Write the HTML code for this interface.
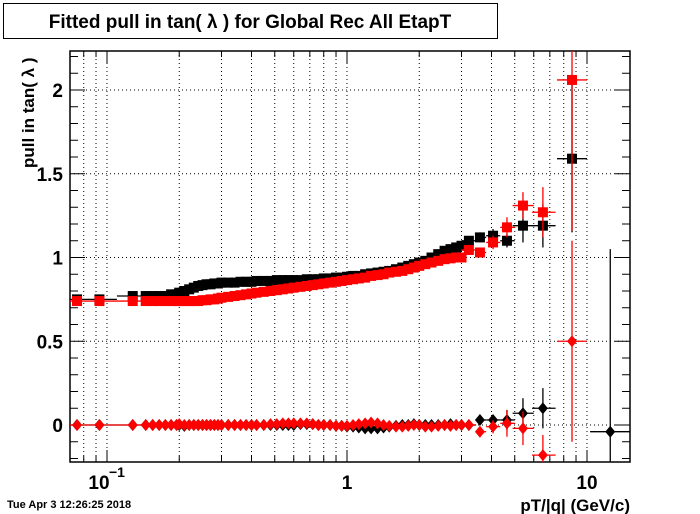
<!DOCTYPE html>
<html><head><meta charset="utf-8"><style>
html,body{margin:0;padding:0;background:#fff;overflow:hidden;}
body{width:700px;height:514px;overflow:hidden;font-family:"Liberation Sans",sans-serif;}
svg{display:block;}
</style></head><body>
<svg id="chart" width="700" height="514" xmlns="http://www.w3.org/2000/svg" font-family="Liberation Sans, sans-serif">
<rect x="3.5" y="3.5" width="494" height="35" fill="#fff" stroke="#000" stroke-width="1"/>
<text x="250" y="28" text-anchor="middle" font-size="19" font-weight="bold">Fitted pull in tan( λ ) for Global Rec All EtapT</text>
<g id="grid"></g>
<g id="axes"></g>
<g id="marks"></g>
<text transform="translate(34,168) rotate(-90)" font-size="17" font-weight="bold">pull in tan( λ )</text>
<text x="630" y="511" text-anchor="end" font-size="17" font-weight="bold">pT/|q| (GeV/c)</text>
<text x="7" y="508" font-size="11" font-weight="bold">Tue Apr  3 12:26:25 2018</text>
</svg>
<script>
const xs=[0.075,0.093,0.128,0.145,0.155,0.165,0.175,0.185,0.195,0.2,0.21,0.22,0.23,0.24,0.25,0.26,0.27,0.28,0.29,0.3,0.32,0.34,0.36,0.38,0.4,0.42,0.45,0.48,0.51,0.54,0.57,0.6,0.64,0.68,0.72,0.76,0.8,0.85,0.9,0.95,1.0,1.06,1.12,1.19,1.26,1.34,1.42,1.5,1.6,1.7,1.8,1.9,2.0,2.12,2.25,2.4,2.55,2.7,2.85,3.0];
const blackPull=[0.75,0.75,0.77,0.77,0.77,0.77,0.77,0.78,0.78,0.79,0.80,0.81,0.82,0.83,0.835,0.84,0.84,0.845,0.845,0.85,0.85,0.85,0.855,0.855,0.855,0.86,0.86,0.86,0.865,0.865,0.865,0.865,0.865,0.87,0.87,0.87,0.875,0.875,0.88,0.88,0.885,0.89,0.89,0.9,0.905,0.91,0.915,0.92,0.93,0.94,0.95,0.96,0.97,0.98,1.0,1.02,1.04,1.05,1.06,1.07];
const redPull=[0.74,0.74,0.74,0.74,0.74,0.74,0.74,0.74,0.74,0.74,0.74,0.74,0.74,0.74,0.745,0.745,0.75,0.75,0.755,0.76,0.765,0.77,0.775,0.78,0.785,0.79,0.795,0.8,0.805,0.81,0.815,0.82,0.825,0.83,0.835,0.84,0.845,0.85,0.855,0.86,0.865,0.87,0.875,0.88,0.89,0.895,0.9,0.91,0.915,0.92,0.93,0.94,0.95,0.96,0.97,0.98,0.99,0.995,1.0,1.0];
const blackMean=[0,0,0,0,0,0,0,0,0,0,-0.005,0,0,0,0,0,0,0,0,0,0,0,0,0,0,0,0,0,0,0,0,0,0.005,0.005,0.005,0,0,0,-0.005,-0.005,-0.01,-0.01,-0.015,-0.02,-0.02,-0.02,-0.015,-0.01,-0.005,0,0,0.005,0,0,0,0,0,0.005,0,0];
const redMean=[0,0,0,0,0,0,0,0,0,0.005,0,0,0,0,0,0,0,0,0,0,0,0,0,0,0,0,0,0.005,0.005,0.01,0.01,0.01,0.01,0.01,0.005,0,0,0,-0.005,-0.005,-0.005,0,0.005,0.01,0.015,0.01,0,-0.005,-0.01,-0.01,-0.005,0,0,-0.01,-0.01,-0.005,0,-0.005,0,0];
const lowXLo=[0.07,0.085,0.11,0.14];
const lowXHi=[0.085,0.11,0.14,0.15];
const tailX=[3.22,3.58,4.06,4.64,5.41,6.55,8.66,12.5];
const tailXLo=[3.0,3.45,3.8,4.35,4.9,5.9,7.5,10.3];
const tailXHi=[3.45,3.8,4.35,5.0,6.0,7.4,10.0,15.5];
const tailBlackPull=[1.10,1.12,1.13,1.10,1.19,1.19,1.59,null];
const tailBlackPullErr=[0.02,0.03,0.04,0.04,0.1,0.13,0.44,0];
const tailRedPull=[1.045,1.03,1.09,1.18,1.31,1.27,2.06,null];
const tailRedPullErr=[0.03,0.03,0.04,0.06,0.08,0.15,0.9,0];
const tailBlackMean=[0.0,0.03,0.03,0.03,0.07,0.1,null,-0.04];
const tailBlackMeanErr=[0.02,0.03,0.03,0.06,0.09,0.12,0,1.09];
const tailRedMean=[0.0,-0.04,-0.01,0.01,-0.02,-0.18,0.5,null];
const tailRedMeanErr=[0.02,0.03,0.04,0.08,0.1,0.12,0.6,0];
const yTickLabels=["0","0.5","1","1.5","2"];
const yTickValues=[0,0.5,1,1.5,2];

const L=70,R=630,T=51,B=462;
const X=v=>347+240*Math.log10(v);
const Y=v=>425-167.5*v;
const NS="http://www.w3.org/2000/svg";
function mk(tag,parent,attrs){const e=document.createElementNS(NS,tag);for(const k in attrs)e.setAttribute(k,attrs[k]);parent.appendChild(e);return e;}
const grid=document.getElementById('grid'),axes=document.getElementById('axes'),marks=document.getElementById('marks');
const cx0=Math.log10(0.0701),cx1=Math.log10(15.1);
for(let d=-2;d<=1;d++){for(let m=1;m<=9;m++){const v=m*Math.pow(10,d);const lv=Math.log10(v);if(lv<cx0||lv>cx1)continue;const px=X(v);
 const g=mk('line',grid,{x1:px,x2:px,y1:T,y2:B,stroke:'#000','stroke-width':1,'stroke-dasharray':'1,3'});
 
 
 const len=m===1?12:6;
 const t=mk('line',axes,{x1:px,x2:px,y1:B,y2:B-len,stroke:'#000','stroke-width':1});
 
 
 const t2=mk('line',axes,{x1:px,x2:px,y1:T,y2:T+len,stroke:'#000','stroke-width':1});
 
 
}}
yTickValues.forEach((v,i)=>{const py=Y(v);
 const g=mk('line',grid,{x1:L,x2:R,y1:py,y2:py,stroke:'#000','stroke-width':1,'stroke-dasharray':'1,3'});
 
 
 const tx=mk('text',axes,{x:L-7,y:py+7,'text-anchor':'end','font-size':19,'font-weight':'bold'});
 tx.textContent=yTickLabels[i];
 
 
});
for(let k=-2;k<=22;k++){const v=k/10;const py=Y(v);if(py<T||py>B)continue;const len=(k%5===0)?15:8;
 const t=mk('line',axes,{x1:L,x2:L+len,y1:py,y2:py,stroke:'#000','stroke-width':1});
 
 
 const t2=mk('line',axes,{x1:R,x2:R-len,y1:py,y2:py,stroke:'#000','stroke-width':1});
 
 
}
const frame=mk('rect',axes,{x:L,y:T,width:R-L,height:B-T,fill:'none',stroke:'#000','stroke-width':1.5});


[[0.1,'10','−1'],[1,'1',null],[10,'10',null]].forEach(l=>{const px=X(l[0]);
 const tx=mk('text',axes,{x:l[2]?px-8:px,y:489,'text-anchor':'middle','font-size':19,'font-weight':'bold'});
 tx.textContent=l[1];
 
 
 if(l[2]){const s=mk('text',axes,{x:px+2,y:477,'font-size':14,'font-weight':'bold'});s.textContent=l[2];
 
 }
});
const defs=mk('defs',document.getElementById('chart'),{});
const cp=mk('clipPath',defs,{id:'clip'});mk('rect',cp,{x:L,y:T,width:R-L,height:B-T});
marks.setAttribute('clip-path','url(#clip)');
function marker(shape,x,y,color,name){
 let e;
 if(shape==='sq'){e=mk('rect',marks,{x:x-5,y:y-5,width:10,height:10,fill:color});}
 else{e=mk('polygon',marks,{points:`${x},${y-6} ${x+5},${y} ${x},${y+6} ${x-5},${y}`,fill:color});}
 
 
}
function errbar(x1,x2,y1,y2,color){const e=mk('line',marks,{x1:x1,x2:x2,y1:y1,y2:y2,stroke:color,'stroke-width':1.3});
 
 }
function drawSeries(vals,color,shape,name){
 lowXLo.forEach((lo,i)=>errbar(X(lo),X(lowXHi[i]),Y(vals[i]),Y(vals[i]),color));
 xs.forEach((x,i)=>marker(shape,X(x),Y(vals[i]),color,name));
}
function drawTail(vals,errs,color,shape,name){
 tailX.forEach((x,i)=>{if(vals[i]===null)return;const px=X(x),py=Y(vals[i]);
  errbar(X(tailXLo[i]),X(tailXHi[i]),py,py,color);
  if(errs[i]>0)errbar(px,px,Y(vals[i]+errs[i]),Y(vals[i]-errs[i]),color);
  marker(shape,px,py,color,name);});
}
drawSeries(blackPull,'#000','sq','black-pull-point');
drawSeries(blackMean,'#000','di','black-mean-point');
drawTail(tailBlackPull,tailBlackPullErr,'#000','sq','black-pull-point');
drawTail(tailBlackMean,tailBlackMeanErr,'#000','di','black-mean-point');
drawSeries(redPull,'#f00','sq','red-pull-point');
drawSeries(redMean,'#f00','di','red-mean-point');
drawTail(tailRedPull,tailRedPullErr,'#f00','sq','red-pull-point');
drawTail(tailRedMean,tailRedMeanErr,'#f00','di','red-mean-point');
</script>
</body></html>
